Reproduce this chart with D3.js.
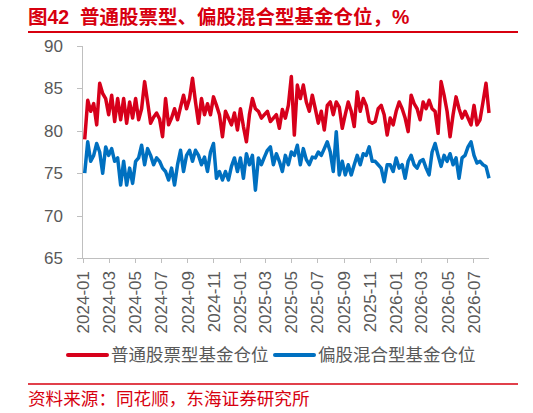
<!DOCTYPE html>
<html>
<meta charset="utf-8">
<style>
body { margin: 0; background: #fff; }
svg text { font-family: "Liberation Sans", "Noto Sans CJK SC", sans-serif; }
.axis path, .axis line { stroke: #bfbfbf; shape-rendering: crispEdges; }
.axis text { fill: #595959; font-size: 17px; }
</style>
<body>
<script src="https://cdn.jsdelivr.net/npm/d3@7"></script>
<script>
// weekly readings, first week ending 2024-01-05
var startDate = new Date(2024, 0, 5);

var stockFund = [
  79.0, 83.6, 82.3, 83.2, 80.7, 85.6, 84.4, 83.8, 81.9, 84.2, 81.1, 83.8, 81.3, 83.8, 80.9, 83.4, 81.5, 83.8, 81.3, 82.6, 85.8, 83.4, 80.9, 81.6, 82.1, 81.4, 79.3,
  83.8, 80.7, 81.5, 82.6, 81.3, 82.8, 84.2, 82.6, 83.8, 86.2, 83.4, 80.9, 83.8, 81.9, 83.2, 81.9, 84.0, 83.0, 81.9, 79.3, 82.3, 81.5, 80.7, 82.1, 80.1, 82.6, 80.5, 78.7,
  81.9, 83.8, 82.6, 82.3, 81.5, 81.9, 82.3, 81.1, 81.5, 81.9, 80.3, 82.5, 81.5, 83.0, 86.4, 79.5, 85.4, 83.8, 85.4, 83.4, 82.3, 84.2, 82.6, 80.9, 82.3, 80.1, 83.0,
  83.4, 81.9, 83.4, 82.8, 80.3, 81.9, 83.4, 82.3, 80.5, 84.6, 82.3, 83.8, 83.0, 81.1, 80.9, 81.1, 82.6, 83.0, 81.9, 79.5, 81.5, 80.7, 82.3, 83.4, 82.6, 81.5, 79.9,
  84.2, 83.2, 82.6, 81.3, 83.4, 82.6, 83.6, 82.6, 82.3, 79.7, 85.8, 84.2, 82.3, 79.3, 81.9, 84.0, 82.6, 81.5, 82.3, 81.5, 80.7, 83.0, 80.7, 81.3, 83.4, 85.6, 82.1
];

var mixedFund = [
  75.0, 78.7, 76.4, 77.1, 78.5, 77.5, 75.0, 78.1, 77.1, 77.9, 76.4, 76.8, 73.6, 76.4, 73.6, 75.6, 73.8, 76.4, 76.8, 78.3, 76.0, 77.9, 77.1, 76.0, 76.8, 76.4, 75.6,
  75.2, 74.2, 75.6, 73.6, 76.0, 77.7, 75.2, 77.1, 77.7, 76.4, 77.7, 77.1, 76.0, 76.9, 75.2, 77.5, 78.5, 74.4, 75.2, 74.2, 75.2, 74.2, 75.8, 76.8, 75.2, 76.8, 74.4,
  77.3, 76.0, 77.1, 73.0, 76.8, 76.0, 76.9, 77.7, 78.1, 76.0, 77.3, 76.4, 75.2, 77.1, 76.0, 77.5, 77.1, 78.3, 76.0, 77.9, 76.6, 76.0, 76.9, 76.8, 77.5, 77.1, 77.9,
  78.7, 77.5, 75.2, 79.9, 74.8, 76.4, 74.8, 76.0, 74.8, 76.0, 77.1, 76.0, 77.3, 77.1, 78.1, 76.4, 76.4, 76.0, 75.6, 74.0, 76.0, 76.0, 75.2, 76.8, 75.6, 76.0, 74.4,
  76.4, 77.1, 76.0, 75.6, 76.4, 76.6, 75.6, 74.8, 77.5, 78.5, 77.1, 75.8, 77.1, 76.4, 77.3, 76.0, 76.8, 74.4, 76.8, 77.1, 78.1, 78.7, 77.1, 76.2, 76.4, 76.0, 75.8, 74.4
];

var seriesNames = ["普通股票型基金仓位", "偏股混合型基金仓位"];
var seriesColors = ["#d7001b", "#0070c0"];
var yTicks = [65, 70, 75, 80, 85, 90];
var titleText = "图42  普通股票型、偏股混合型基金仓位，%";
var sourceText = "资料来源：同花顺，东海证券研究所";

var dates = stockFund.map(function(d, i) { return d3.timeDay.offset(startDate, 7 * i); });

var W = 533, H = 413;
var svg = d3.select("body").append("svg").attr("width", W).attr("height", H);

// title
svg.append("text")
    .attr("x", 28).attr("y", 24)
    .attr("fill", "#d7000f")
    .style("font-size", "19.5px").style("font-weight", "bold")
    .style("white-space", "pre")
    .text(titleText);
svg.append("line").attr("x1", 28).attr("x2", 518).attr("y1", 32).attr("y2", 32)
    .attr("stroke", "#d7000f").attr("stroke-width", 2);

var x = d3.scaleTime()
    .domain([new Date(2024, 0, 1), new Date(2026, 7, 7)])
    .range([83, 489]);
var y = d3.scaleLinear().domain([65, 90]).range([258, 46]);

// y axis
var yAxis = svg.append("g").attr("class", "axis")
    .attr("transform", "translate(82,0)")
    .call(d3.axisLeft(y).tickValues(yTicks).tickSize(5).tickPadding(14));
yAxis.select(".domain").attr("d", "M0," + y(90) + "V" + y(65));

// x axis
var xAxis = svg.append("g").attr("class", "axis")
    .attr("transform", "translate(0,258)")
    .call(d3.axisBottom(x).ticks(d3.timeMonth.every(2)).tickFormat(d3.timeFormat("%Y-%m")).tickSize(5));
xAxis.select(".domain").attr("d", "M82,0H489");
xAxis.selectAll(".tick text")
    .attr("transform", "rotate(-90)")
    .attr("x", -13).attr("y", 0).attr("dy", "0.35em")
    .style("text-anchor", "end");

// lines
var line = d3.line()
    .x(function(d, i) { return x(dates[i]); })
    .y(function(d) { return y(d); });

[stockFund, mixedFund].forEach(function(s, k) {
  svg.append("path")
      .datum(s)
      .attr("fill", "none")
      .attr("stroke", seriesColors[k])
      .attr("stroke-width", 3.5)
      .attr("stroke-linejoin", "round")
      .attr("d", line);
});

// legend
var legendX = [68, 275];
seriesNames.forEach(function(name, k) {
  var g = svg.append("g").attr("transform", "translate(" + legendX[k] + ",355)");
  g.append("line").attr("x1", 0).attr("x2", 39).attr("y1", 0).attr("y2", 0)
      .attr("stroke", seriesColors[k]).attr("stroke-width", 4).attr("stroke-linecap", "round");
  g.append("text").attr("x", 43).attr("y", 0).attr("dy", "0.36em")
      .attr("fill", "#595959").style("font-size", "17.5px")
      .text(name);
});

// source
svg.append("line").attr("x1", 28).attr("x2", 518).attr("y1", 384).attr("y2", 384)
    .attr("stroke", "#d7000f").attr("stroke-width", 1.5);
svg.append("text")
    .attr("x", 28).attr("y", 405)
    .attr("fill", "#d7000f")
    .style("font-size", "17.6px")
    .text(sourceText);
</script>
</body>
</html>
